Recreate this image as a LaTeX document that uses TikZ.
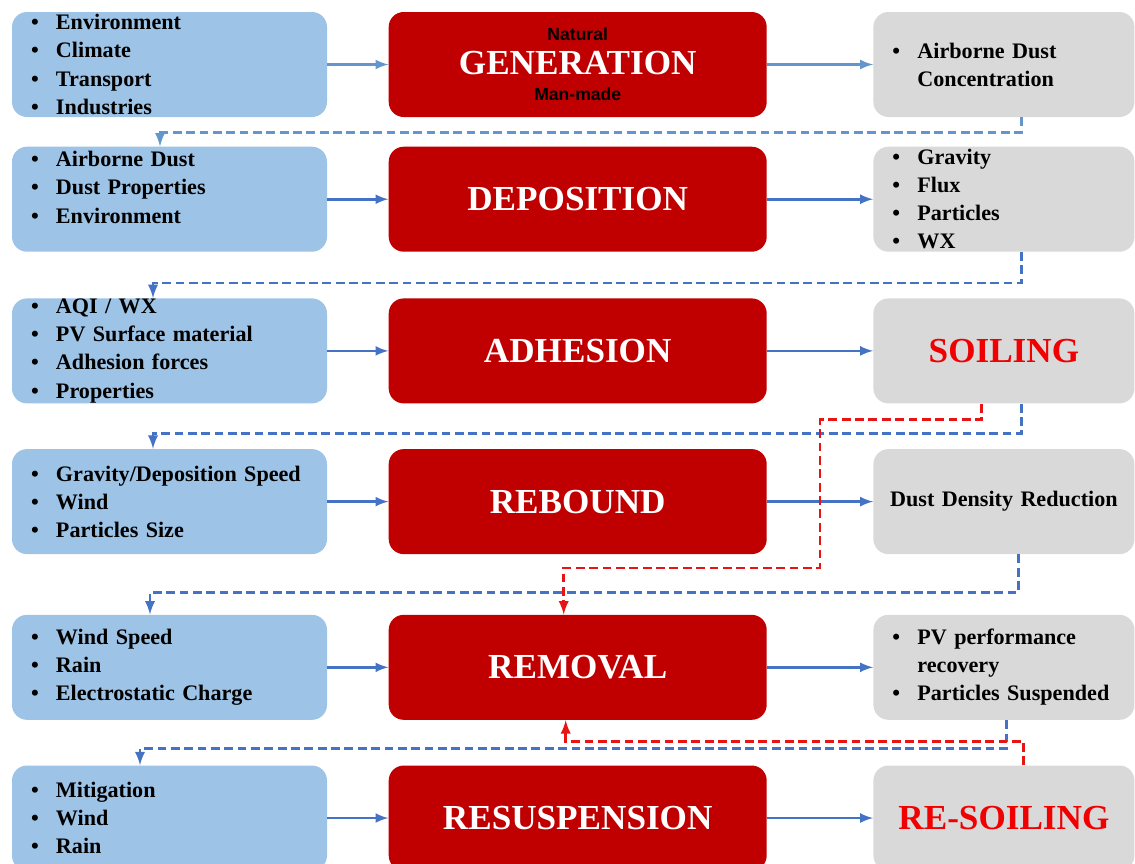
\documentclass[tikz,border=0pt]{standalone}
\usepackage{fontspec}
\setmainfont{Liberation Serif}
\newfontfamily\natfont{Liberation Sans}
\usetikzlibrary{arrows,positioning}

\definecolor{factorblue}{RGB}{157,195,230}
\definecolor{stagered}{RGB}{192,0,0}
\definecolor{outgray}{RGB}{217,217,217}
\definecolor{flowblue}{RGB}{68,114,196}
\definecolor{lightflow}{RGB}{98,150,205}
\definecolor{backred}{RGB}{232,20,20}
\definecolor{soilred}{RGB}{240,0,0}
\newcommand{\itm}{\makebox[0.5cm][l]{\textbullet}}

\begin{document}
\begin{tikzpicture}[
  factor/.style={fill=factorblue, rounded corners=0.3cm, text width=5.54cm,
    inner xsep=0.38cm, inner ysep=0pt, minimum height=2.1cm, align=left,
    font=\fontsize{12.6}{16}\selectfont\bfseries},
  stage/.style={fill=stagered, rounded corners=0.3cm, minimum width=7.56cm,
    minimum height=2.1cm, align=center, text=white,
    font=\fontsize{20}{18}\selectfont\bfseries},
  outcome/.style={fill=outgray, rounded corners=0.3cm, text width=4.46cm,
    inner xsep=0.38cm, inner ysep=0pt, minimum height=2.1cm, align=left,
    font=\fontsize{12.6}{16}\selectfont\bfseries},
  soiled/.style={align=center, text=soilred, font=\fontsize{20}{24}\selectfont\bfseries},
  flow/.style={->, >=latex, line width=1.5pt, draw=flowblue},
  carry/.style={->, >=latex, dash pattern=on 5pt off 2.6pt, line width=1.6pt, draw=flowblue},
  relapse/.style={carry, draw=backred}
]
  \useasboundingbox (0,0) rectangle (22.7,-17.26);

  % generation
  \node[factor] (genin) at (3.39,-1.29) {\itm Environment\\\itm Climate\\\itm Transport\\\itm Industries};
  \node[stage, right=1.22cm of genin] (gen)
    {{\natfont\fontsize{10}{12}\selectfont\color{black}Natural}\\[1pt]GENERATION\\[-3pt]{\natfont\fontsize{10}{12}\selectfont\color{black}Man-made}};
  \node[outcome, right=2.12cm of gen] (genout) {\itm Airborne Dust\\\hspace*{0.5cm}Concentration};

  % deposition
  \node[factor, below=0.58cm of genin, text depth=45.6pt] (depin) {\itm Airborne Dust\\\itm Dust Properties\\\itm Environment};
  \node[stage, right=1.22cm of depin] (dep) {DEPOSITION};
  \node[outcome, right=2.12cm of dep] (depout) {\itm Gravity\\\itm Flux\\\itm Particles\\\itm WX};

  % adhesion
  \node[factor, below=0.92cm of depin] (adhin) {\itm AQI / WX\\\itm PV Surface material\\\itm Adhesion forces\\\itm Properties};
  \node[stage, right=1.22cm of adhin] (adh) {ADHESION};
  \node[outcome, soiled, right=2.12cm of adh] (soil) {SOILING};

  % rebound
  \node[factor, below=0.9cm of adhin] (rebin) {\itm Gravity/Deposition Speed\\\itm Wind\\\itm Particles Size};
  \node[stage, right=1.22cm of rebin] (reb) {REBOUND};
  \node[outcome, align=center, text width=5.02cm, inner xsep=0.1cm, right=2.12cm of reb] (dens) {Dust Density Reduction};

  % removal
  \node[factor, below=1.2cm of rebin] (remin) {\itm Wind Speed\\\itm Rain\\\itm Electrostatic Charge};
  \node[stage, right=1.22cm of remin] (rem) {REMOVAL};
  \node[outcome, right=2.12cm of rem] (recov) {\itm PV performance\\\hspace*{0.5cm}recovery\\\itm Particles Suspended};

  % resuspension
  \node[factor, below=0.9cm of remin] (resin) {\itm Mitigation\\\itm Wind\\\itm Rain};
  \node[stage, right=1.22cm of resin] (res) {RESUSPENSION};
  \node[outcome, soiled, right=2.12cm of res] (resoil) {RE-SOILING};

  \draw[flow, draw=lightflow] (genin) -- (gen);
  \draw[flow, draw=lightflow] (gen) -- (genout);
  \foreach \a/\b/\c in {depin/dep/depout, adhin/adh/soil, rebin/reb/dens,
      remin/rem/recov, resin/res/resoil}{
    \draw[flow] (\a) -- (\b);
    \draw[flow] (\b) -- (\c);
  }

  % carry-over between stages
  \draw[carry, draw=lightflow] ([xshift=0.35cm]genout.south) -- ++(0,-0.3) -| ([xshift=-0.19cm]depin.north);
  \draw[carry] ([xshift=0.35cm]depout.south) -- ++(0,-0.62) -| ([xshift=-0.33cm]adhin.north);
  \draw[carry] ([xshift=0.35cm]soil.south) -- ++(0,-0.6) -| ([xshift=-0.33cm]rebin.north);
  \draw[carry] ([xshift=0.29cm]dens.south) -- ++(0,-0.76) -| ([xshift=-0.39cm]remin.north);
  \draw[carry] ([xshift=0.05cm]recov.south) -- ++(0,-0.56) -| ([xshift=-0.59cm]resin.north);

  % soiling back to removal
  \coordinate (drop) at (16.4,-11.36);
  \draw[relapse] ([xshift=-0.45cm]soil.south) -- ++(0,-0.32) -| (drop) -| ([xshift=-0.28cm]rem.north);
  \draw[relapse] ([xshift=0.39cm]resoil.north) -- ++(0,0.48) -| ([xshift=-0.24cm]rem.south);
\end{tikzpicture}
\end{document}
